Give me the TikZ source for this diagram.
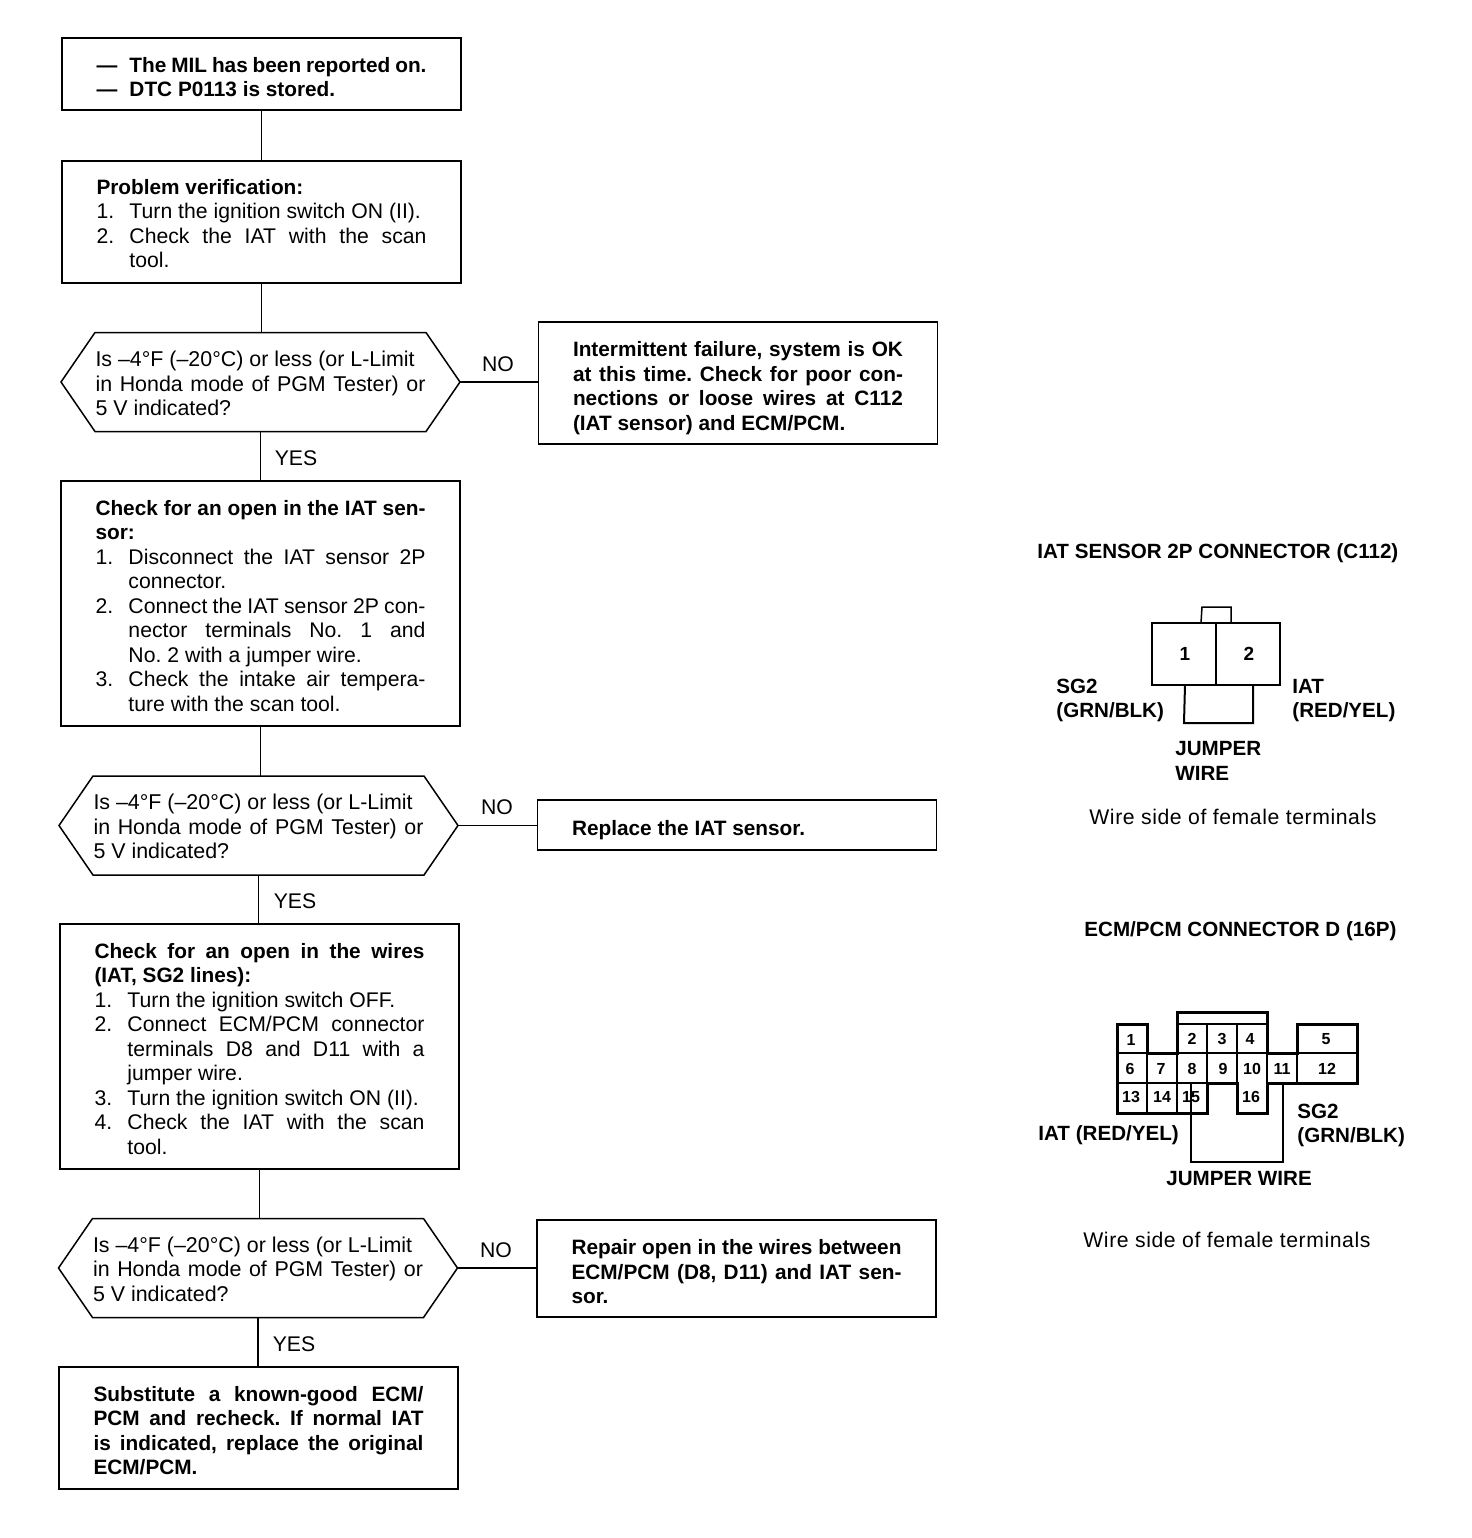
\documentclass[tikz,border=0pt]{standalone}
\usepackage{fontspec}
\setmainfont{Liberation Sans}
\usetikzlibrary{calc}
\frenchspacing
\newcommand\itm[2]{\makebox[16.5pt][l]{#1}\mbox{#2}}
\newcommand\itj[2]{\makebox[16.5pt][l]{#1}\makebox[148.5pt][s]{#2}}
\newcommand\cnt[1]{\hspace*{16.5pt}\mbox{#1}}
\newcommand\cntj[1]{\hspace*{16.5pt}\makebox[148.5pt][s]{#1}}
\newcommand\full[1]{\makebox[165pt][s]{#1}}
\newcommand\bodyfont{\fontsize{10.6}{12.25}\selectfont}
\newcommand\hexfont{\fontsize{10.7}{12.25}\selectfont}
\newcommand\bsz{\fontsize{10.4}{12.25}\selectfont\bfseries}
\newcommand\hexa[1]{\draw[flowline] (#1.west) -- ([xshift=17pt]#1.north west) -- ([xshift=-17pt]#1.north east) -- (#1.east) -- ([xshift=-17pt]#1.south east) -- ([xshift=17pt]#1.south west) -- cycle;}
\tikzset{
  flowline/.style={line width=0.75pt,black},
  flowbox/.style={draw,flowline,rectangle,minimum width=199.5pt,inner sep=0pt,outer sep=0pt,text width=165pt,align=flush left,font=\bodyfont},
  hexbox/.style={rectangle,minimum width=199.5pt,minimum height=49.5pt,inner sep=0pt,outer sep=0pt,text width=165pt,align=flush left,font=\hexfont},
  textdown/.style={execute at begin node={\spaceskip=0pt \xspaceskip=0pt \rule{0pt}{\dimexpr 8pt+#1pt\relax}}},
  edgelabel/.style={inner sep=0pt,font=\bodyfont},
  caplabel/.style={inner sep=0pt,anchor=west,font=\fontsize{10.3}{12.25}\selectfont\bfseries,align=flush left},
  capnote/.style={inner sep=0pt,anchor=west,font=\fontsize{10.6}{12.25}\selectfont\addfontfeatures{LetterSpace=2.7}},
  pin/.style={inner sep=0pt,font=\fontsize{8}{8}\selectfont\bfseries},
  thickline/.style={line width=1.5pt,black,line join=miter},
  thinline/.style={line width=0.6pt,black},
}
\begin{document}
\begin{tikzpicture}[x=0.5pt,y=-0.5pt]
\useasboundingbox (0,0) rectangle (1472,1538);

\node[flowbox,minimum height=36pt,textdown=2.5] (b1) at (261.5,74) {\bsz
\itj{—}{The MIL has been reported on.}\\
\itm{—}{DTC P0113 is stored.}};

\node[flowbox,minimum height=61pt,textdown=1] (b2) at (261.5,222) {%
{\bsz Problem verification:}\\
\itm{1.}{Turn the ignition switch ON (II).}\\
\itj{2.}{Check the IAT with the scan}\\
\cnt{tool.}};

\node[hexbox,textdown=1.5] (d1) at (260.5,382) {%
\mbox{Is –4°F (–20°C) or less (or L-Limit}\\
\full{in Honda mode of PGM Tester) or}\\
5 V indicated?};
\hexa{d1}

\node[flowbox,minimum height=61pt,textdown=4.5] (r1) at (738,383) {\bsz
\full{Intermittent failure, system is OK}\\
\full{at this time. Check for poor con-}\\
\full{nections or loose wires at C112}\\
\mbox{(IAT sensor) and ECM/PCM.}};

\node[flowbox,minimum height=122.5pt,textdown=2] (b3) at (260.5,603.5) {%
{\bsz\full{Check for an open in the IAT sen-}}\\
{\bsz sor:}\\
\itj{1.}{Disconnect the IAT sensor 2P}\\
\cnt{connector.}\\
\itj{2.}{Connect the IAT sensor 2P con-}\\
\cntj{nector terminals No. 1 and}\\
\cnt{No. 2 with a jumper wire.}\\
\itj{3.}{Check the intake air tempera-}\\
\cnt{ture with the scan tool.}};

\node[hexbox,textdown=1] (d2) at (258.5,825.5) {%
\mbox{Is –4°F (–20°C) or less (or L-Limit}\\
\full{in Honda mode of PGM Tester) or}\\
5 V indicated?};
\hexa{d2}

\node[flowbox,minimum height=25pt,textdown=5] (r2) at (737,825) {{\bsz Replace the IAT sensor.}};

\node[flowbox,minimum height=122.5pt,textdown=2] (b4) at (259.5,1046.5) {%
{\bsz\full{Check for an open in the wires}}\\
{\bsz (IAT, SG2 lines):}\\
\itm{1.}{Turn the ignition switch OFF.}\\
\itj{2.}{Connect ECM/PCM connector}\\
\cntj{terminals D8 and D11 with a}\\
\cnt{jumper wire.}\\
\itm{3.}{Turn the ignition switch ON (II).}\\
\itj{4.}{Check the IAT with the scan}\\
\cnt{tool.}};

\node[hexbox,textdown=1] (d3) at (258,1268) {%
\mbox{Is –4°F (–20°C) or less (or L-Limit}\\
\full{in Honda mode of PGM Tester) or}\\
5 V indicated?};
\hexa{d3}

\node[flowbox,minimum height=48.5pt,textdown=3] (r3) at (736.5,1268.5) {\bsz
\full{Repair open in the wires between}\\
\full{ECM/PCM (D8, D11) and IAT sen-}\\
sor.};

\node[flowbox,minimum height=61pt,textdown=2] (b5) at (258.5,1428) {\bsz
\full{Substitute a known-good ECM/}\\
\full{PCM and recheck. If normal IAT}\\
\full{is indicated, replace the original}\\
ECM/PCM.};

\draw[flowline] (b1.south) -- (b1.south |- b2.north);
\draw[flowline] (b2.south) -- (b2.south |- d1.north);
\draw[flowline] (d1.south) -- (d1.south |- b3.north);
\draw[flowline] (b3.south) -- (b3.south |- d2.north);
\draw[flowline] (d2.south) -- (d2.south |- b4.north);
\draw[flowline] (b4.south) -- (b4.south |- d3.north);
\draw[flowline] (d3.south) -- (d3.south |- b5.north);
\draw[flowline] (d1.east) -- (d1.east -| r1.west);
\draw[flowline] (d2.east) -- (d2.east -| r2.west);
\draw[flowline] (d3.east) -- (d3.east -| r3.west);

\node[edgelabel] (no1) at (498,364) {NO};
\node[edgelabel] (no2) at (497,807) {NO};
\node[edgelabel] (no3) at (496,1250) {NO};
\node[edgelabel] (yes1) at (296,458) {YES};
\node[edgelabel] (yes2) at (295,901) {YES};
\node[edgelabel] (yes3) at (294,1344) {YES};

% IAT sensor connector
\node[caplabel] (t1) at (1037,553) {IAT SENSOR 2P CONNECTOR (C112)};
\draw[flowline,line width=1pt] (1152,623) rectangle (1280,685);
\draw[thinline] (1216,623) -- (1216,685);
\draw[flowline] (1201,623) -- (1202,607) -- (1231,607) -- (1231,623);
\draw[flowline,line width=1pt] (1185,685) -- (1184,723) -- (1253,723) -- (1253,685);
\node[pin,font=\fontsize{9.5}{10}\selectfont\bfseries] (p1) at (1185,654) {1};
\node[pin,font=\fontsize{9.5}{10}\selectfont\bfseries] (p2) at (1249,654) {2};
\node[caplabel] (sg2a) at (1056,700.5) {SG2\\(GRN/BLK)};
\node[caplabel] (iata) at (1292,700.5) {IAT\\(RED/YEL)};
\node[caplabel] (jwa) at (1175,761) {JUMPER\\WIRE};
\node[capnote] (n1) at (1089,817) {Wire side of female terminals};

% ECM/PCM connector
\node[caplabel] (t2) at (1084,931) {ECM/PCM CONNECTOR D (16P)};
\draw[thinline] (1177,1024) -- (1267,1024);
\draw[thinline] (1117,1053) -- (1357,1053);
\draw[thinline] (1147,1053) -- (1147,1113);
\draw[thinline] (1177,1053) -- (1177,1113);
\draw[thinline] (1207,1024) -- (1207,1083);
\draw[thinline] (1237,1024) -- (1237,1083);
\draw[thinline] (1267,1053) -- (1267,1083);
\draw[thinline] (1297,1053) -- (1297,1083);
\draw[line width=1pt] (1117,1083) -- (1207,1083);
\draw[thickline] (1117,1024) -- (1147,1024) -- (1147,1053) -- (1177,1053) -- (1177,1012) -- (1267,1012) -- (1267,1053) -- (1297,1053) -- (1297,1024) -- (1357,1024) -- (1357,1083) -- (1267,1083) -- (1267,1113) -- (1237,1113) -- (1237,1083) -- (1207,1083) -- (1207,1113) -- (1117,1113) -- cycle;
\draw[flowline,line width=1pt] (1191,1083) -- (1191,1162) -- (1283,1162) -- (1283,1083);
\foreach \n/\x/\y in {1/1131/1040,2/1192/1039,3/1222/1039,4/1250/1039,5/1326/1039,6/1130/1069,7/1161/1069,8/1192/1069,9/1223/1069,10/1252/1069,11/1282/1069,12/1327/1069,13/1131/1097,14/1162/1097,15/1191/1097,16/1251/1097}
  \node[pin] (c\n) at (\x,\y) {\n};
\node[caplabel] (iatb) at (1038,1135) {IAT (RED/YEL)};
\node[caplabel] (sg2b) at (1297,1125.5) {SG2\\(GRN/BLK)};
\node[caplabel] (jwb) at (1166,1178) {JUMPER WIRE};
\node[capnote] (n2) at (1083,1240) {Wire side of female terminals};
\end{tikzpicture}
\end{document}
